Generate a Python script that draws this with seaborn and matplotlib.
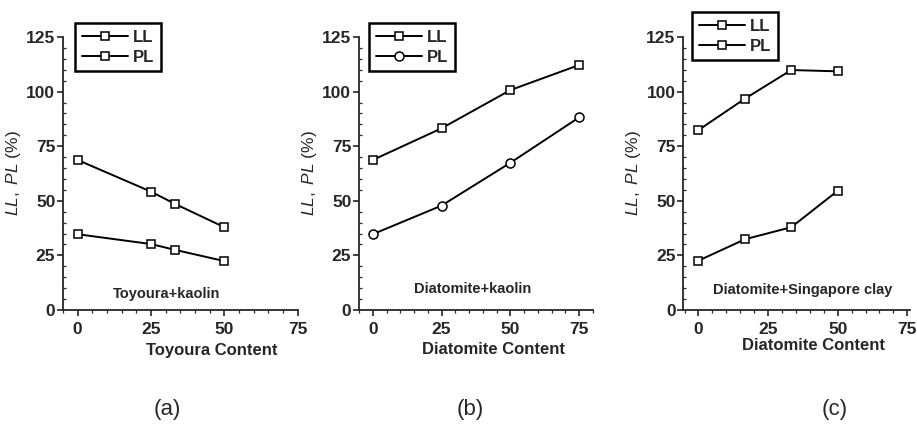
import numpy as np
import pandas as pd
import matplotlib
matplotlib.use('Agg')
import matplotlib.pyplot as plt
from matplotlib.ticker import MultipleLocator
import seaborn as sns

# Dados
x_a = [0, 25, 33.3, 50]
ll_a = [68.7, 54.2, 48.5, 37.9]
pl_a = [34.7, 30.2, 27.5, 22.4]

x_b = [0, 25, 50, 75]
ll_b = [68.7, 83.2, 100.7, 112.2]
pl_b = [34.7, 47.8, 67.4, 88.2]

x_c = [0, 16.7, 33.3, 50]
ll_c = [82.4, 96.8, 109.9, 109.3]
pl_c = [22.6, 32.4, 37.9, 54.6]

titulos = ['Toyoura+kaolin', 'Diatomite+kaolin', 'Diatomite+Singapore clay']
xlabels = ['Toyoura Content', 'Diatomite Content', 'Diatomite Content']
letras = ['(a)', '(b)', '(c)']
pl_markers = ['s', 'o', 's']

sns.set_style('ticks')
plt.rcParams['font.family'] = ['Liberation Sans', 'DejaVu Sans']
plt.rcParams['mathtext.fontset'] = 'custom'
plt.rcParams['mathtext.it'] = 'Liberation Sans:italic'
plt.rcParams['mathtext.rm'] = 'Liberation Sans'

fig = plt.figure(figsize=(9.17, 4.36), dpi=100)

# posicoes dos eixos (fracao da figura)
pos = [[0.0687, 0.289, 0.256, 0.626],
       [0.3915, 0.289, 0.255, 0.626],
       [0.745, 0.289, 0.2475, 0.626]]
xlims = [(-5, 75), (-5, 80), (-5.5, 76)]
leg_pos = [(0.0818, 0.947), (0.4024, 0.947), (0.7546, 0.9725)]
txt_pos = [(30.3, 7.3), (36.2, 9.5), (37.4, 9.2)]
# rotulos do eixo x (posicao em pixels da figura)
xlab_xy = [(212, 350), (494, 350), (814, 345)]
letra_x = [0.183, 0.5125, 0.9106]

dados = [(x_a, ll_a, pl_a), (x_b, ll_b, pl_b), (x_c, ll_c, pl_c)]

for i, (xs, ll, pl) in enumerate(dados):
    ax = fig.add_axes(pos[i])
    df = pd.DataFrame({'x': xs, 'LL': ll, 'PL': pl})
    sns.lineplot(data=df, x='x', y='LL', ax=ax, color='k', lw=1.4, marker='s',
                 markersize=6, markerfacecolor='white', markeredgecolor='k',
                 markeredgewidth=1.1, label='LL')
    sns.lineplot(data=df, x='x', y='PL', ax=ax, color='k', lw=1.4, marker=pl_markers[i],
                 markersize=6.5 if pl_markers[i] == 'o' else 6, markerfacecolor='white',
                 markeredgecolor='k', markeredgewidth=1.1, label='PL')
    ax.set_xlim(*xlims[i])
    ax.set_ylim(0, 125)
    ax.xaxis.set_major_locator(MultipleLocator(25))
    ax.yaxis.set_major_locator(MultipleLocator(25))
    ax.xaxis.set_minor_locator(MultipleLocator(5))
    ax.yaxis.set_minor_locator(MultipleLocator(5))
    ax.tick_params(axis='both', which='major', direction='out', length=4, width=1.2,
                   labelsize=12.5)
    ax.tick_params(axis='x', which='major', pad=5)
    ax.tick_params(axis='y', which='major', pad=1.5)
    ax.tick_params(axis='y', which='minor', direction='in', length=2.5, width=0.9)
    ax.tick_params(axis='x', which='minor', direction='out', length=2.5, width=0.9)
    for lab in ax.get_xticklabels() + ax.get_yticklabels():
        lab.set_fontweight('bold')
    sns.despine(ax=ax)
    for s in ['left', 'bottom']:
        ax.spines[s].set_linewidth(1.3)
    ax.set_ylabel(r'$LL,\ PL$ (%)', fontsize=12.5, labelpad=2)
    ax.set_xlabel('')
    fig.text(xlab_xy[i][0] / 917, 1 - xlab_xy[i][1] / 436, xlabels[i],
             ha='center', va='center', fontsize=12, fontweight='bold')
    ax.text(txt_pos[i][0], txt_pos[i][1], titulos[i], ha='center', va='center',
            fontsize=10.5, fontweight='bold')
    leg = ax.legend(loc='upper left', bbox_to_anchor=leg_pos[i],
                    bbox_transform=fig.transFigure, fancybox=False, framealpha=1,
                    edgecolor='k', handlelength=2.8, labelspacing=0.3,
                    borderpad=0.4, handletextpad=0.3, borderaxespad=0,
                    prop={'weight': 'bold', 'size': 12})
    leg.get_frame().set_linewidth(1.8)
    fig.text(letra_x[i], 0.06, letras[i], ha='center', va='center', fontsize=16)

fig.savefig('out.png', dpi=100)
